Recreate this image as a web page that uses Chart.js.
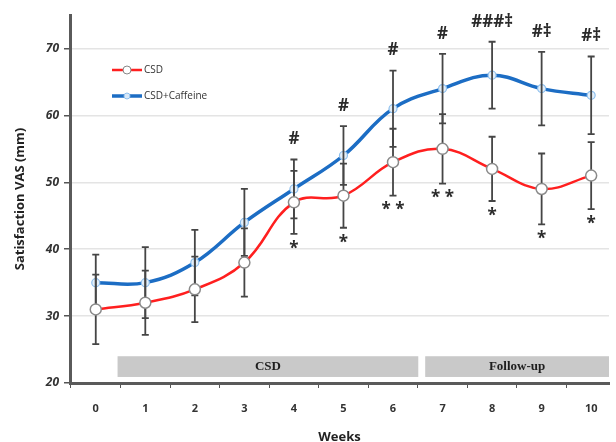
<!DOCTYPE html>
<html>
<head>
<meta charset="utf-8">
<script src="https://cdn.jsdelivr.net/npm/chart.js@4/dist/chart.umd.min.js"></script>
<style>
  html, body { margin: 0; padding: 0; background: #fff; overflow: hidden; }
  #wrap { width: 616px; height: 442px; }
</style>
</head>
<body>
<div id="wrap"><canvas id="grafica"></canvas></div>
<script>
// Datos
const weeks = [0, 1, 2, 3, 4, 5, 6, 7, 8, 9, 10];
const csdMean = [31, 32, 34, 38, 47, 48, 53, 55, 52, 49, 51];
const csdSd = [5.2, 4.8, 4.9, 5.1, 4.7, 4.8, 5.0, 5.2, 4.8, 5.3, 5.0];
const caffMean = [35, 35, 38, 44, 49, 54, 61, 64, 66, 64, 63];
const caffSd = [4.2, 5.3, 4.9, 5.0, 4.4, 4.4, 5.7, 5.2, 5.0, 5.5, 5.8];
const caffMarks = ['', '', '', '', '#', '#', '#', '#', '###\u2021', '#\u2021', '#\u2021'];
const csdMarks = ['', '', '', '', '*', '*', '**', '**', '*', '*', '*'];
const yTicks = [20, 30, 40, 50, 60, 70];
const phaseLabels = ['CSD', 'Follow-up'];
const phaseStart = [0.44, 6.65];
const phaseEnd = [6.51, 10.5];
const seriesNames = ['CSD', 'CSD+Caffeine'];

const RED = '#ff1f1f';
const BLUE = '#1c6dc4';
const SANS = '"Open Sans", "Liberation Sans", sans-serif';

// Barras de fases, barras de error, anotaciones y leyenda
const extras = {
  id: 'extras',
  beforeDatasetsDraw(chart) {
    const { ctx, chartArea, scales: { x, y } } = chart;
    ctx.save();
    ctx.beginPath();
    ctx.rect(chartArea.left, chartArea.top, chartArea.right - chartArea.left, chartArea.bottom - chartArea.top);
    ctx.clip();
    phaseLabels.forEach((lab, i) => {
      const x0 = x.getPixelForValue(phaseStart[i]);
      const x1 = Math.min(x.getPixelForValue(phaseEnd[i]), chartArea.right);
      const yTop = y.getPixelForValue(24);
      const yBot = y.getPixelForValue(20.9);
      ctx.fillStyle = '#c9c9c9';
      ctx.fillRect(x0, yTop, x1 - x0, yBot - yTop);
      ctx.fillStyle = '#1e1e1e';
      ctx.font = 'bold 13px "Liberation Serif", "DejaVu Serif", serif';
      ctx.textAlign = 'center';
      ctx.textBaseline = 'middle';
      ctx.fillText(lab, (x0 + x1) / 2, (yTop + yBot) / 2);
    });
    ctx.restore();
  },
  // las barras de error van encima de la linea azul y debajo de la roja
  afterDatasetDraw(chart, args) {
    if (args.index !== 1) return;
    const { ctx, scales: { x, y } } = chart;
    ctx.save();
    ctx.strokeStyle = '#454545';
    ctx.lineWidth = 1.8;
    [[caffMean, caffSd], [csdMean, csdSd]].forEach(([m, sd]) => {
      weeks.forEach((w, i) => {
        const px = x.getPixelForValue(w);
        const hi = y.getPixelForValue(m[i] + sd[i]);
        const lo = y.getPixelForValue(m[i] - sd[i]);
        ctx.beginPath();
        ctx.moveTo(px, hi); ctx.lineTo(px, lo);
        ctx.moveTo(px - 3.5, hi); ctx.lineTo(px + 3.5, hi);
        ctx.moveTo(px - 3.5, lo); ctx.lineTo(px + 3.5, lo);
        ctx.stroke();
      });
    });
    ctx.restore();
  },
  afterDatasetsDraw(chart) {
    const { ctx, scales: { x, y } } = chart;
    ctx.save();
    ctx.fillStyle = '#2a2a2a';
    ctx.textAlign = 'center';
    ctx.textBaseline = 'middle';
    weeks.forEach((w, i) => {
      const px = x.getPixelForValue(w);
      if (caffMarks[i]) {
        ctx.font = 'bold 17px ' + SANS;
        ctx.fillText(caffMarks[i], px, y.getPixelForValue(caffMean[i] + caffSd[i]) - 20);
      }
      if (csdMarks[i]) {
        ctx.font = 'bold 17px ' + SANS;
        const txt = csdMarks[i].split('').join(' ');
        ctx.fillText(txt, px, y.getPixelForValue(csdMean[i] - csdSd[i]) + 15);
      }
    });
    // leyenda
    const items = [[RED, 2.5, '#ffffff', '#888888', 4], [BLUE, 3.5, '#d8e8f8', '#8fc0ee', 3]];
    items.forEach(([col, lw, fill, ring, r], i) => {
      const ly = 70 + i * 26;
      ctx.strokeStyle = col;
      ctx.lineWidth = lw;
      ctx.beginPath();
      ctx.moveTo(112, ly); ctx.lineTo(142, ly);
      ctx.stroke();
      ctx.beginPath();
      ctx.arc(127, ly, r, 0, Math.PI * 2);
      ctx.fillStyle = fill; ctx.fill();
      ctx.strokeStyle = ring; ctx.lineWidth = 1; ctx.stroke();
      ctx.fillStyle = '#333';
      ctx.font = '10px ' + SANS;
      ctx.textAlign = 'left';
      ctx.fillText(seriesNames[i], 144, ly);
    });
    ctx.restore();
  }
};

new Chart(document.getElementById('grafica'), {
  type: 'line',
  data: {
    datasets: [{
      label: seriesNames[0],
      data: weeks.map((w, i) => ({ x: w, y: csdMean[i] })),
      borderColor: RED,
      borderWidth: 2.5,
      tension: 0.4,
      pointRadius: 5.5,
      pointBackgroundColor: '#ffffff',
      pointBorderColor: '#8a8a8a',
      pointBorderWidth: 1.5
    }, {
      label: seriesNames[1],
      data: weeks.map((w, i) => ({ x: w, y: caffMean[i] })),
      borderColor: BLUE,
      borderWidth: 3.5,
      tension: 0.4,
      pointRadius: 4,
      pointBackgroundColor: '#e4eff9',
      pointBorderColor: '#8fc0ee',
      pointBorderWidth: 1.2
    }]
  },
  options: {
    responsive: true,
    maintainAspectRatio: false,
    animation: false,
    layout: { padding: { top: 15, right: 0, left: 0, bottom: 0 } },
    plugins: { legend: { display: false }, tooltip: { enabled: false } },
    scales: {
      x: {
        type: 'linear',
        min: -0.52,
        max: 10.36,
        afterBuildTicks: s => {
          const t = [];
          for (let v = -0.5; v <= 10; v += 0.5) t.push({ value: v });
          s.ticks = t;
        },
        afterFit: s => { s.height = 59; },
        border: { color: '#5a5a5a', width: 3 },
        grid: {
          drawOnChartArea: false,
          tickLength: 5,
          tickColor: c => Number.isInteger(c.tick.value) ? 'rgba(0,0,0,0)' : '#555'
        },
        ticks: {
          autoSkip: false,
          maxRotation: 0,
          padding: 14,
          color: '#333',
          font: { family: SANS, size: 11, weight: 'bold' },
          callback: v => Number.isInteger(v) ? String(v) : ''
        },
        title: {
          display: true,
          text: 'Weeks',
          color: '#222',
          font: { family: SANS, size: 13, weight: 'bold' },
          padding: { top: 0, bottom: -3 }
        }
      },
      y: {
        min: 20,
        max: 75,
        afterBuildTicks: s => { s.ticks = yTicks.map(v => ({ value: v })); },
        afterFit: s => { s.width = 70; },
        border: { color: '#5a5a5a', width: 3 },
        grid: {
          color: c => c.tick && c.tick.value === 20 ? 'rgba(0,0,0,0)' : '#e4e4e4',
          lineWidth: 1.5,
          tickLength: 6,
          tickColor: '#555'
        },
        ticks: {
          padding: 5,
          color: '#333',
          font: { family: SANS, size: 12, style: 'italic', weight: 'bold' }
        },
        title: {
          display: true,
          text: 'Satisfaction VAS (mm)',
          color: '#222',
          font: { family: SANS, size: 13, weight: 'bold' },
          padding: { top: 12, bottom: 0 }
        }
      }
    }
  },
  plugins: [extras]
});
</script>
</body>
</html>
